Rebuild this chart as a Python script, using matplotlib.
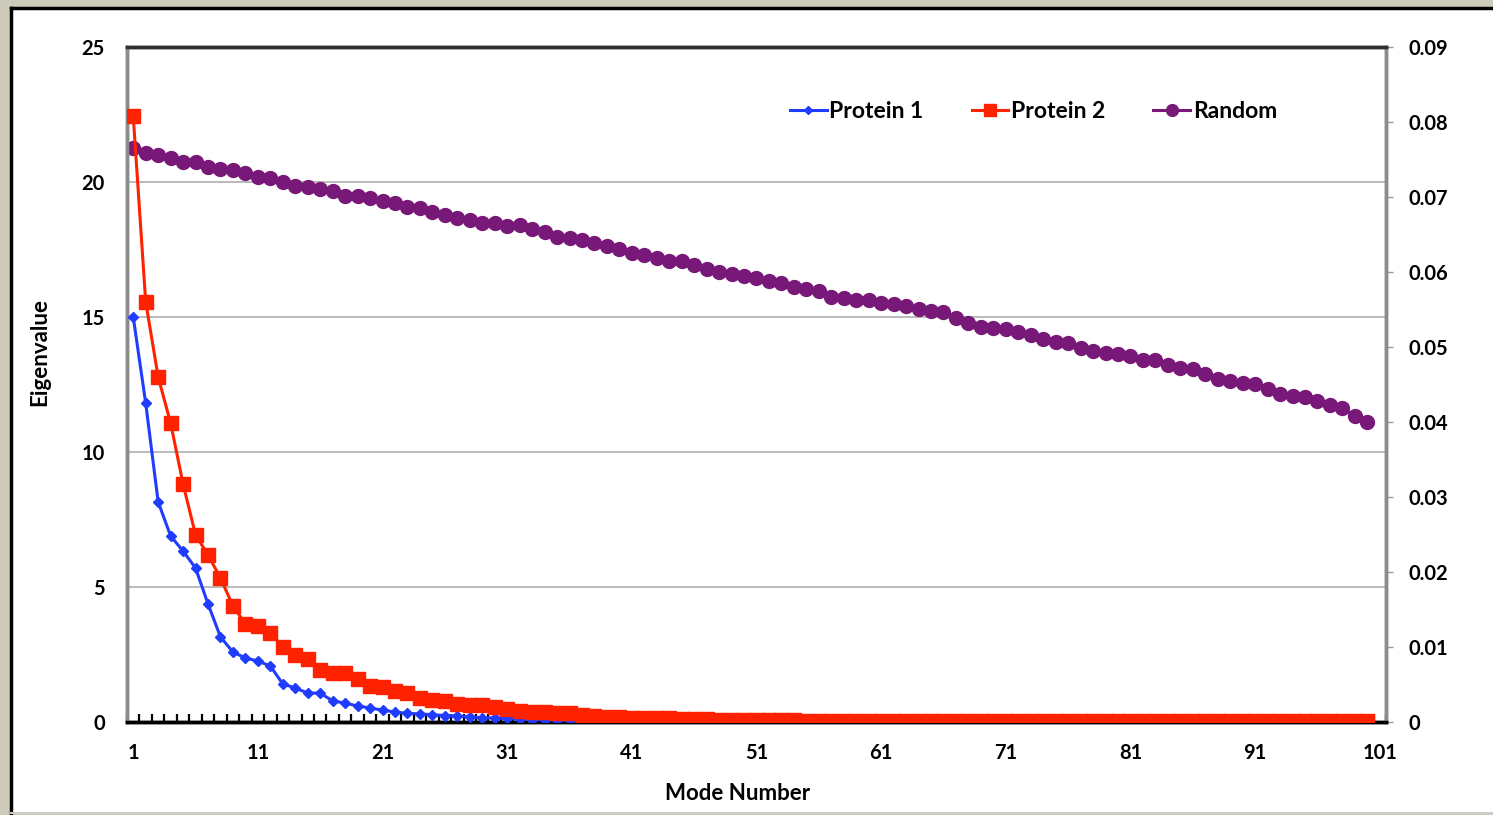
import matplotlib
matplotlib.use('Agg')
import matplotlib.pyplot as plt
from matplotlib.patches import Rectangle
from matplotlib.lines import Line2D
from matplotlib.ticker import FuncFormatter, MultipleLocator

plt.rcParams['font.family'] = ['Lato', 'DejaVu Sans']
plt.rcParams['font.weight'] = 'bold'

# eigenvalues
protein1 = [
    15.0, 11.81, 8.15, 6.89, 6.33, 5.70, 4.37, 3.15, 2.59, 2.37,
    2.26, 2.07, 1.41, 1.26, 1.07, 1.07, 0.78, 0.70, 0.59, 0.52,
    0.44, 0.37, 0.32, 0.30, 0.27, 0.24, 0.22, 0.19, 0.16, 0.15,
    0.13, 0.11, 0.09, 0.08, 0.07, 0.06, 0.05, 0.05, 0.04, 0.04,
    0.035, 0.03, 0.03, 0.03, 0.025, 0.025, 0.02, 0.02, 0.02, 0.02,
    0.015, 0.015, 0.015, 0.015, 0.015, 0.012, 0.012, 0.012, 0.012, 0.012,
    0.01, 0.01, 0.01, 0.01, 0.01, 0.01, 0.01, 0.01, 0.01, 0.01,
    0.008, 0.008, 0.008, 0.008, 0.008, 0.008, 0.008, 0.008, 0.008, 0.008,
    0.006, 0.006, 0.006, 0.006, 0.006, 0.006, 0.006, 0.006, 0.006, 0.006,
    0.005, 0.005, 0.005, 0.005, 0.005, 0.005, 0.005, 0.005, 0.005, 0.005,
]
protein2 = [
    22.44, 15.56, 12.78, 11.07, 8.81, 6.93, 6.19, 5.33, 4.30, 3.63,
    3.56, 3.30, 2.78, 2.48, 2.33, 1.93, 1.81, 1.81, 1.59, 1.33,
    1.30, 1.15, 1.07, 0.89, 0.81, 0.78, 0.67, 0.63, 0.63, 0.56,
    0.48, 0.41, 0.37, 0.37, 0.33, 0.33, 0.26, 0.22, 0.19, 0.19,
    0.15, 0.14, 0.13, 0.13, 0.12, 0.11, 0.10, 0.09, 0.09, 0.08,
    0.07, 0.07, 0.06, 0.06, 0.05, 0.04, 0.04, 0.04, 0.04, 0.04,
    0.035, 0.035, 0.035, 0.035, 0.035, 0.03, 0.03, 0.03, 0.03, 0.03,
    0.03, 0.03, 0.03, 0.03, 0.03, 0.025, 0.025, 0.025, 0.025, 0.025,
    0.025, 0.025, 0.025, 0.025, 0.025, 0.02, 0.02, 0.02, 0.02, 0.02,
    0.02, 0.02, 0.02, 0.02, 0.02, 0.02, 0.02, 0.02, 0.02, 0.02,
]
random_vals = [
    0.0765, 0.0758, 0.0756, 0.0752, 0.0747, 0.0746, 0.0740, 0.0737, 0.0736, 0.0732,
    0.0726, 0.0725, 0.0720, 0.0715, 0.0713, 0.0711, 0.0708, 0.0701, 0.0701, 0.0698,
    0.0695, 0.0692, 0.0687, 0.0685, 0.0680, 0.0676, 0.0672, 0.0669, 0.0665, 0.0665,
    0.0661, 0.0662, 0.0657, 0.0653, 0.0647, 0.0645, 0.0643, 0.0639, 0.0635, 0.0630,
    0.0625, 0.0623, 0.0618, 0.0615, 0.0615, 0.0609, 0.0604, 0.0600, 0.0597, 0.0594,
    0.0592, 0.0588, 0.0585, 0.0580, 0.0577, 0.0575, 0.0567, 0.0565, 0.0563, 0.0563,
    0.0559, 0.0557, 0.0555, 0.0550, 0.0548, 0.0547, 0.0538, 0.0532, 0.0526, 0.0525,
    0.0524, 0.0520, 0.0516, 0.0510, 0.0507, 0.0505, 0.0498, 0.0494, 0.0492, 0.0491,
    0.0488, 0.0482, 0.0483, 0.0476, 0.0472, 0.0470, 0.0464, 0.0457, 0.0454, 0.0452,
    0.0450, 0.0444, 0.0437, 0.0435, 0.0433, 0.0428, 0.0423, 0.0418, 0.0408, 0.0400,
]
modes = list(range(1, len(protein1) + 1))
xtick_labels = list(range(1, 102, 10))
left_ticks = [0, 5, 10, 15, 20, 25]
grid_vals = [5, 10, 15, 20]

fig = plt.figure(figsize=(14.93, 8.15), dpi=100, facecolor='#cfcbbb')
# white panel with black frame on the left and top
fig.patches.append(Rectangle((11 / 1493, 2 / 815), 1.0, 1 - 10 / 815, transform=fig.transFigure,
                             facecolor='white', edgecolor='none', zorder=0))
fig.lines.append(Line2D([11 / 1493, 11 / 1493], [2 / 815, 1 - 8 / 815], transform=fig.transFigure,
                        color='black', lw=2.5))
fig.lines.append(Line2D([11 / 1493, 1.0], [1 - 8 / 815, 1 - 8 / 815], transform=fig.transFigure,
                        color='black', lw=2.5))
fig.lines.append(Line2D([11 / 1493, 1.0], [2 / 815, 2 / 815], transform=fig.transFigure,
                        color='#cccccc', lw=1.5))

ax = fig.add_axes([127 / 1493, 1 - 722 / 815, (1386 - 127) / 1493, (722 - 47) / 815])
ax2 = ax.twinx()
ax.set_zorder(2)
ax.patch.set_visible(False)
ax2.set_zorder(1)
ax2.patch.set_facecolor('white')

ymax_left, ymax_right = 25, 0.09
ax.set_ylim(0, ymax_left)
ax2.set_ylim(0, ymax_right)
ax.set_xlim(0.5, 101.5)

# gridlines under the random series
for v in grid_vals:
    ax2.axhline(v / ymax_left * ymax_right, color='#b5b5b5', lw=1.3, zorder=0)

l3, = ax2.plot(modes, random_vals, color='#781878', marker='o', markersize=10, lw=2.2,
               label='Random', zorder=3)
l1, = ax.plot(modes, protein1, color='#1f3cff', marker='D', markersize=5, lw=2.2,
              label='Protein 1', zorder=3)
l2, = ax.plot(modes, protein2, color='#ff2200', marker='s', markersize=9.5, lw=2.2,
              label='Protein 2', zorder=4)

ax.set_xticks(xtick_labels)
ax.set_xticklabels([str(t) for t in xtick_labels])
ax.xaxis.set_minor_locator(MultipleLocator(1, offset=0.5))
ax.tick_params(axis='x', which='major', length=0, pad=15, labelsize=14.5)
ax.tick_params(axis='x', which='minor', direction='in', length=6, width=1.6, color='black')
ax.set_yticks(left_ticks)
ax.tick_params(axis='y', length=0, pad=16, labelsize=14.5)

ax2.set_yticks([i / 100 for i in range(10)])
ax2.yaxis.set_major_formatter(FuncFormatter(lambda v, p: '0' if v == 0 else f'{v:.2f}'))
ax2.tick_params(axis='y', direction='out', length=5, width=1, color='#999999', pad=11, labelsize=14.5)

for a in (ax, ax2):
    a.spines['left'].set_color('#8c8c8c')
    a.spines['right'].set_color('#8c8c8c')
    a.spines['top'].set_color('#303030')
    a.spines['bottom'].set_color('black')
    for s in a.spines.values():
        s.set_linewidth(2.5)

ax.set_ylabel('Eigenvalue', fontsize=16, fontweight='bold', va='center')
ax.yaxis.set_label_coords((40 - 127) / 1259, (722 - 352) / 675)
ax.set_xlabel('Mode Number', fontsize=16, fontweight='bold', va='center')
ax.xaxis.set_label_coords((738 - 127) / 1259, (722 - 793) / 675)

ax.legend(handles=[l1, l2, l3], ncol=3, frameon=False, fontsize=16.5,
          loc='center left', bbox_to_anchor=(790 / 1493, 1 - 112 / 815),
          bbox_transform=fig.transFigure, borderaxespad=0, borderpad=0,
          handlelength=1.6, handletextpad=0.12, columnspacing=2.1, markerscale=0.85)

fig.savefig('out.png', dpi=100, facecolor=fig.get_facecolor())
